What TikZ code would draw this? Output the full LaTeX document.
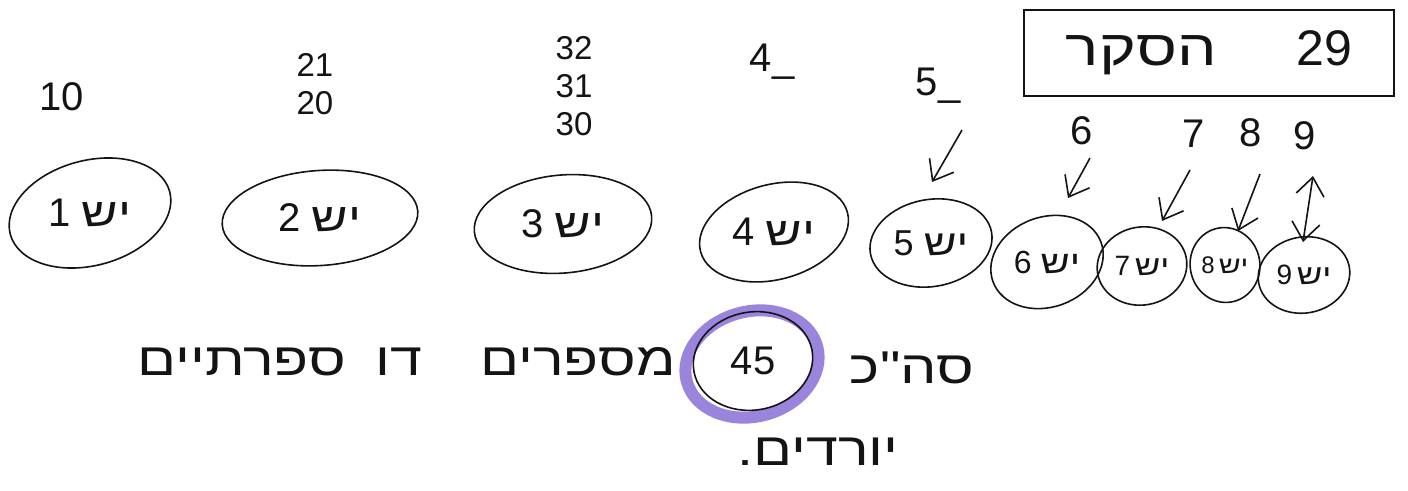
\documentclass[tikz,border=0pt]{standalone}
\usepackage{fontspec}
\setmainfont{Liberation Sans}
\newfontfamily\hebfont[Script=Hebrew,FakeStretch=1.25]{Liberation Sans}
\TeXXeTstate=1
\usepackage{tikz}
\usetikzlibrary{arrows.meta,positioning,shapes.geometric}
\definecolor{inkBlack}{RGB}{20,20,20}
\definecolor{markerPurple}{RGB}{138,112,214}
\newcommand{\heb}[1]{{\hebfont\beginR #1\endR}}
\newcommand{\fsz}[1]{\fontsize{#1}{#1}\selectfont}
\newcommand{\upright}[2]{\rotatebox{-#1}{#2}}

\begin{document}
\begin{tikzpicture}[x=1pt,y=-1pt,
    groupoval/.style={ellipse,draw=inkBlack,line width=1.6pt,inner sep=0pt,text=inkBlack},
    numlabel/.style={font=\fsz{40},text=inkBlack,inner sep=0pt},
    numstack/.style={font=\fontsize{33}{38}\selectfont,align=center,text=inkBlack,inner sep=0pt},
    hebtext/.style={font=\fsz{46},text=inkBlack,inner sep=0pt},
    barb/.tip={Straight Barb[length=18pt,width=28pt,line width=1.6pt]},
    downarrow/.style={-barb,line width=1.6pt,draw=inkBlack}
  ]
    \fill[white] (0,0) rectangle (1408,490);
    \useasboundingbox (0,0) rectangle (1408,490);

    \node[draw=inkBlack,line width=1.6pt,minimum width=370,minimum height=86,inner sep=0pt,
      font=\fsz{50},text=inkBlack] (answerbox) at (1209,53) {\heb{הסקר}\hspace{80pt}29\hspace{18pt}};

    \node[groupoval,minimum width=165,minimum height=105,rotate=15,font=\fsz{40}] (g1) at (90,213) {\upright{15}{1~\heb{יש}}};
    \node[groupoval,minimum width=196,minimum height=95,rotate=4,font=\fsz{40}] (g2) at (320,218) {\upright{4}{2~\heb{יש}}};
    \node[groupoval,minimum width=178,minimum height=98,rotate=5,font=\fsz{40}] (g3) at (563,224) {\upright{5}{3~\heb{יש}}};
    \node[groupoval,minimum width=152,minimum height=95,rotate=15,font=\fsz{40}] (g4) at (774,232) {\upright{15}{4~\heb{יש}}};
    \node[groupoval,minimum width=123,minimum height=87,rotate=10,font=\fsz{36}] (g5) at (931,243) {\upright{10}{5~\heb{יש}}};
    \node[groupoval,minimum width=115,minimum height=90,rotate=20,font=\fsz{32}] (g6) at (1047,262) {\upright{20}{6~\heb{יש}}};
    \node[groupoval,minimum width=90,minimum height=78,rotate=10,font=\fsz{28}] (g7) at (1142,266) {\upright{10}{7\,\heb{יש}}};
    \node[groupoval,minimum width=66,minimum height=75,rotate=10,font=\fsz{24}] (g8) at (1225,265) {\upright{10}{8\,\heb{יש}}};
    \node[groupoval,minimum width=92,minimum height=76,rotate=10,font=\fsz{28}] (g9) at (1304,275) {\upright{10}{9\,\heb{יש}}};

    \node[numlabel] (n1x) at (62,97) {10};
    \node[numstack] (n2x) at (315,84) {21\\20};
    \node[numstack] (n3x) at (574,86) {32\\31\\30};
    \node[numlabel] (n4) at (772,62) {4\_};
    \node[numlabel] (n5) at (938,86) {5\_};
    \node[numlabel] (n6) at (1082,131) {6};
    \node[numlabel] (n7) at (1194,134) {7};
    \node[numlabel] (n8) at (1251,133) {8};
    \node[numlabel] (n9) at (1305,136) {9};

    \coordinate (t5) at (962,130); \coordinate (h5) at (932,182);
    \coordinate (t6) at (1090,158); \coordinate (h6) at (1068,198);
    \coordinate (t7) at (1190,170); \coordinate (h7) at (1162,221);
    \coordinate (t8) at (1260,174); \coordinate (h8) at (1238,231);
    \coordinate (t9) at (1313,176); \coordinate (h9) at (1303,242);
    \draw[downarrow] (t5) -- (h5);
    \draw[downarrow] (t6) -- (h6);
    \draw[downarrow] (t7) -- (h7);
    \draw[downarrow] (t8) -- (h8);
    \draw[downarrow,barb-barb] (t9) -- (h9);

    \node[ellipse,draw=markerPurple,line width=12pt,opacity=0.85,minimum width=135,
      minimum height=105,rotate=15] (mark45) at (752,364) {};
    \node[groupoval,minimum width=120,minimum height=98,rotate=10,font=\fsz{40}] (total) at (753,361) {\upright{10}{45}};

    \node[hebtext] (twodigit) at (280,362) {\heb{דו\hspace{30pt}ספרתיים}};
    \node[hebtext] (numbers) at (578,362) {\heb{מספרים}};
    \node[hebtext] (sumword) at (912,368) {\heb{סה"כ}};
    \node[hebtext] (descending) at (818,452) {\heb{יורדים.}};
  \end{tikzpicture}
\end{document}
